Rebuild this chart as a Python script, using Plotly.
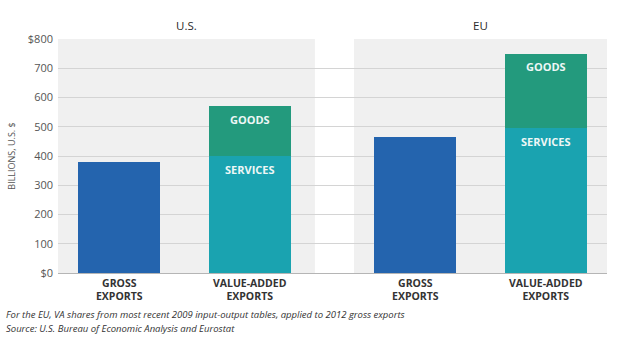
import plotly.graph_objects as go

# Exports, billions of U.S. dollars
regions = ["U.S.", "EU"]
categories = ["GROSS<br>EXPORTS", "VALUE-ADDED<br>EXPORTS"]
gross_exports = [380, 465]
va_services = [400, 495]
va_goods = [170, 255]
y_ticks = [0, 100, 200, 300, 400, 500, 600, 700, 800]
y_tick_text = ["$0", "100", "200", "300", "400", "500", "600", "700", "$800"]

BLUE = "#2464ae"
TEAL = "#1aa3b0"
GREEN = "#239a7d"
FONT = "Open Sans"

group_step = 2.27  # distance between the two regional panels on the x axis
bar_w = 0.63
pad = 0.47
gross_x = [g * group_step for g in range(len(regions))]
va_x = [g * group_step + 1 for g in range(len(regions))]

fig = go.Figure()
fig.add_trace(go.Bar(x=gross_x, y=gross_exports, width=bar_w,
                     marker=dict(color=BLUE, line=dict(width=0)),
                     hoverinfo="skip", showlegend=False))
fig.add_trace(go.Bar(x=va_x, y=va_services, width=bar_w,
                     marker=dict(color=TEAL, line=dict(width=0)),
                     hoverinfo="skip", showlegend=False))
fig.add_trace(go.Bar(x=va_x, y=va_goods, width=bar_w,
                     marker=dict(color=GREEN, line=dict(width=0)),
                     hoverinfo="skip", showlegend=False))

annotations = []
# segment labels near the top of each stacked piece
for i, x in enumerate(va_x):
    for top, label in [(va_services[i], "SERVICES"),
                       (va_services[i] + va_goods[i], "GOODS")]:
        annotations.append(dict(x=x, y=top, xref="x", yref="y", text=f"<b>{label}</b>",
                                showarrow=False, yshift=-13,
                                font=dict(family=FONT, size=11, color="#eef7f6")))

# panel headings
x_lo = -pad
x_hi = va_x[-1] + pad
gap_lo = 1.5
gap_hi = group_step - pad
for r, center in zip(regions, [(x_lo + gap_lo) / 2, (gap_hi + x_hi) / 2]):
    annotations.append(dict(x=center, y=1.056, xref="x", yref="paper", text=r,
                            showarrow=False, yanchor="middle",
                            font=dict(family=FONT, size=11.5, color="#2a2a2a")))

# footnotes below the axis
annotations.append(dict(x=-0.098, y=-0.179, xref="paper", yref="paper", xanchor="left",
                        yanchor="middle", showarrow=False,
                        text="<i>For the EU, VA shares from most recent 2009 input-output tables, applied to 2012 gross exports</i>",
                        font=dict(family=FONT, size=9.5, color="#333333")))
annotations.append(dict(x=-0.098, y=-0.239, xref="paper", yref="paper", xanchor="left",
                        yanchor="middle", showarrow=False,
                        text="<i>Source: U.S. Bureau of Economic Analysis and Eurostat</i>",
                        font=dict(family=FONT, size=9.5, color="#333333")))

fig.update_layout(
    width=630, height=341,
    margin=dict(l=55, r=23, t=39, b=68),
    paper_bgcolor="white",
    plot_bgcolor="#f0f0f0",
    barmode="stack",
    bargap=0,
    annotations=annotations,
    shapes=[dict(type="rect", xref="x", yref="paper", x0=gap_lo, x1=gap_hi, y0=0, y1=1,
                 fillcolor="white", line=dict(width=0), layer="below")],
    xaxis=dict(range=[x_lo, x_hi], showgrid=False, zeroline=False,
               tickvals=gross_x + va_x,
               ticktext=[f"<b>{categories[0]}</b>"] * len(regions) + [f"<b>{categories[1]}</b>"] * len(regions),
               tickfont=dict(family=FONT, size=10.5, color="#333333"),
               showline=True, linecolor="#b5b5b5", linewidth=1),
    yaxis=dict(range=[0, 800], tickvals=y_ticks, ticktext=y_tick_text,
               showgrid=True, gridcolor="#d4d4d4", gridwidth=1, zeroline=False,
               tickfont=dict(family=FONT, size=11, color="#555555"),
               ticklabelstandoff=4,
               title=dict(text="BILLIONS, U.S. $", standoff=10,
                          font=dict(family=FONT, size=9, color="#555555"))),
)

fig.write_html("out.html")
